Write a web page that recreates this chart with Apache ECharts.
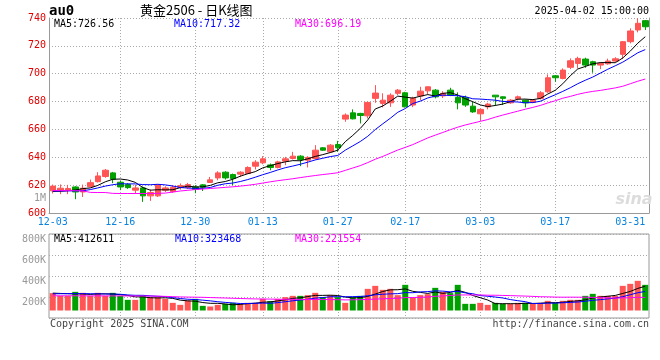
<!DOCTYPE html>
<html><head><meta charset="utf-8">
<script src="https://cdn.jsdelivr.net/npm/echarts/dist/echarts.min.js"></script>
<style>html,body{margin:0;padding:0;background:#fff}#c{width:660px;height:360px}</style>
</head><body><div id="c"></div>
<script>
const dates = ['12-03','12-04','12-05','12-06','12-09','12-10','12-11','12-12','12-13','12-16','12-17','12-18','12-19','12-20','12-23','12-24','12-25','12-26','12-27','12-30','12-31',
'01-02','01-03','01-06','01-07','01-08','01-09','01-10','01-13','01-14','01-15','01-16','01-17','01-20','01-21','01-22','01-23','01-24','01-27',
'02-05','02-06','02-07','02-10','02-11','02-12','02-13','02-14','02-17','02-18','02-19','02-20','02-21','02-24','02-25','02-26','02-27','02-28',
'03-03','03-04','03-05','03-06','03-07','03-10','03-11','03-12','03-13','03-14','03-17','03-18','03-19','03-20','03-21','03-24','03-25','03-26','03-27','03-28','03-31',
'04-01','04-02'];
const openP = [615.9,616.4,616.2,618.7,615.1,618.9,622.5,626.2,628.8,622.1,
620.5,616.4,618.0,612.3,612.3,616.4,615.4,618.5,618.3,618.7,
620.2,621.9,625.2,629.3,627.6,627.9,628.3,633.6,636.0,634.5,
632.7,637.2,639.1,640.8,637.9,639.1,646.8,643.9,649.2,667.4,
671.9,671.5,669.8,682.3,678.7,679.1,685.9,686.3,677.5,684.0,
687.7,688.2,684.1,688.2,683.0,682.7,676.7,671.2,676.2,684.6,
683.4,679.1,682.0,681.0,679.4,682.3,687.0,698.5,696.6,704.6,
707.4,710.5,708.6,706.2,707.1,709.1,713.9,723.0,731.4,738.1];
const closeP = [619.3,617.8,617.6,615.1,617.8,621.8,626.6,630.7,624.3,618.7,
618.2,618.0,612.3,614.7,620.2,618.0,618.5,619.6,620.4,616.9,
618.5,623.8,628.8,625.2,624.8,629.3,632.7,636.5,638.9,632.7,
636.7,638.9,640.8,638.4,639.9,645.1,645.1,648.7,646.8,670.3,
667.6,670.0,679.4,686.1,681.0,684.6,688.2,676.2,682.3,687.5,
690.6,683.4,685.9,684.6,679.1,677.5,672.6,674.4,678.2,683.4,
682.3,681.0,683.4,679.1,681.0,686.3,697.1,697.1,702.6,709.3,
711.0,706.2,706.2,707.4,709.1,710.7,723.0,730.7,736.2,733.7];
const lowP = [614.0,613.5,613.5,609.9,611.5,618.5,621.9,625.3,621.4,616.4,
617.3,613.8,608.0,608.7,611.5,615.1,614.5,616.8,617.3,614.2,
615.8,621.6,623.5,624.0,620.0,625.9,628.0,631.2,635.0,630.7,
632.0,634.3,638.4,633.6,632.7,638.4,644.6,643.5,643.9,665.5,
667.2,664.3,667.9,679.1,675.8,676.2,684.6,675.8,676.0,681.0,
685.0,682.3,682.5,683.9,674.4,676.2,671.9,666.2,674.4,677.0,
677.5,678.4,680.9,675.8,678.8,681.5,686.3,694.2,696.0,703.3,
703.8,704.3,700.7,703.3,706.5,708.5,710.5,721.8,729.7,731.4];
const highP = [620.4,620.5,620.2,619.2,620.4,624.0,629.3,631.6,629.5,623.0,
621.5,620.2,619.0,616.9,620.7,619.2,620.0,621.2,621.6,620.0,
620.7,625.9,630.0,630.0,628.3,630.0,633.5,637.9,640.8,635.5,
637.5,640.3,643.9,641.5,640.8,648.7,647.3,649.5,651.8,671.5,
674.4,671.9,679.8,691.8,685.9,685.9,689.0,687.0,683.5,690.6,
690.8,689.0,687.5,689.9,686.6,684.3,679.8,675.1,679.1,684.6,
683.8,681.8,684.3,681.5,681.8,687.5,699.5,699.0,703.8,711.0,
712.2,711.5,709.3,708.1,710.8,711.8,723.5,732.6,739.8,738.6];
const ma5 = [615.5,615.6,616.0,616.5,617.5,618.0,619.8,622.4,624.2,624.4,
623.7,622.0,618.3,616.4,616.7,616.6,616.7,618.2,619.3,618.7,
618.8,619.8,621.7,622.6,624.2,626.4,628.2,629.7,632.4,634.0,
635.5,636.7,637.6,637.5,638.9,640.6,641.9,643.4,645.1,651.2,
655.7,660.7,666.8,674.7,676.8,680.2,683.9,683.2,682.5,683.8,
685.0,684.0,685.9,686.4,684.7,682.1,679.9,677.6,676.4,677.2,
678.2,679.9,681.7,681.8,681.4,682.2,685.4,688.1,692.8,698.5,
703.4,705.2,707.1,708.0,708.0,707.9,711.3,716.2,721.9,726.56];
const ma10 = [615.8,615.8,615.9,615.9,616.0,616.8,618.0,619.3,620.3,621.0,
620.9,620.9,620.4,620.3,620.6,620.2,619.4,618.3,617.9,617.7,
617.7,618.3,619.9,621.0,621.5,622.6,624.0,625.7,627.5,629.1,
630.9,632.5,633.7,635.0,636.5,638.1,639.3,640.5,641.3,645.1,
648.2,651.3,655.1,659.9,664.0,668.0,672.3,675.0,678.6,680.3,
682.6,683.9,684.6,684.4,684.2,683.5,682.0,681.8,681.4,681.0,
680.1,679.9,679.7,679.1,679.3,680.2,682.6,684.9,687.3,689.9,
692.8,695.3,697.6,700.4,703.2,705.7,708.3,711.6,715.0,717.32];
const ma30 = [616.1,616.1,616.1,616.0,615.9,614.8,614.7,614.7,614.1,614.0,
614.0,614.0,614.0,614.0,614.1,614.3,615.0,615.8,616.3,616.8,
617.2,617.6,618.0,618.4,618.8,619.3,619.9,620.6,621.5,622.4,
623.2,623.9,624.6,625.4,626.2,626.9,627.6,628.2,628.9,630.6,
632.3,634.0,636.2,638.6,640.6,642.9,645.2,647.1,649.1,651.5,
653.9,655.9,657.8,659.8,661.6,663.2,664.5,665.8,667.1,668.8,
670.3,671.7,673.1,674.5,675.8,677.2,679.0,680.6,682.4,683.7,
685.2,686.4,687.3,688.0,688.9,689.8,691.0,692.8,694.6,696.19];
// volumes in thousands
const volK = [295,249,249,317,300,249,300,249,300,249,
181,181,249,227,227,198,130,96,170,198,
79,68,96,113,130,113,130,130,198,159,
198,227,249,249,261,300,227,261,227,130,
227,249,368,419,351,368,261,436,215,261,
278,385,317,295,436,113,113,130,96,130,
113,113,130,130,113,130,164,130,164,181,
181,249,283,249,249,249,419,453,504,436];
const volMa5 = [295,290,285,283,282,273,283,283,280,269,
256,232,232,217,213,216,206,176,164,158,
135,122,122,111,97,104,116,123,140,146,
163,182,206,216,237,257,257,260,255,229,
214,219,240,279,323,351,353,367,326,308,
290,315,291,307,342,309,255,217,178,116,
116,116,116,123,120,123,133,133,140,154,
164,181,212,229,242,256,290,324,375,412.6];
const volMa10 = [283,285,287,287,287,285,283,281,279,276,
264,258,258,249,241,236,219,204,191,186,
176,164,149,138,128,119,119,123,126,122,
134,149,165,178,191,210,220,233,236,233,
236,238,250,267,276,283,286,304,302,316,
321,334,329,317,325,300,285,254,242,229,
213,186,167,150,118,120,125,125,132,137,
144,157,173,184,198,210,235,268,302,323.5];
const volMa30 = [250,250,250,250,249,249,249,248,248,248,
247,247,246,245,244,240,235,231,228,226,
224,220,216,212,208,204,200,197,195,194,
191,190,190,188,187,189,186,186,184,180,
182,184,188,194,198,204,208,220,221,223,
230,241,248,254,264,264,264,264,260,259,
256,253,249,245,240,234,232,228,226,227,
226,226,223,217,214,210,215,216,225,221.6];
const labelDates = ['12-03','12-16','12-30','01-13','01-27','02-17','03-03','03-17','03-31'];
const gridDates = ['12-16','12-30','01-13','01-27','02-17','03-03','03-17'];
const volTickLabels = ['200K','400K','600K','800K'];
const priceMaText = ['MA5:726.56','MA10:717.32','MA30:696.19'];
const volMaText = ['MA5:412611','MA10:323468','MA30:221554'];

const RED = '#ff5555', GREEN = '#00a000';
const MONO = '"DejaVu Sans Mono", monospace';
const dotted = {color:'#aaaaaa', type:[1,2], width:1};
const chart = echarts.init(document.getElementById('c'), null, {renderer:'canvas'});
const candle = dates.map((d,i)=>[openP[i], closeP[i], lowP[i], highP[i]]);
const volData = volK.map((v,i)=>({value:v, itemStyle:{color: closeP[i] >= openP[i] ? RED : GREEN}}));
const showLabel = (i, v) => labelDates.indexOf(v) >= 0;
const showGrid = (i, v) => gridDates.indexOf(v) >= 0;
const maLine = (data, color, xi, yi) => ({type:'line', data, xAxisIndex:xi, yAxisIndex:yi, symbol:'none', z:4,
  lineStyle:{color, width:1}, silent:true});
const txt = (text, x, y, fill, opts) => Object.assign({type:'text', x, y, z:100,
  style:Object.assign({text, fill, font:'10px '+MONO, align:'left', verticalAlign:'middle'}, opts||{})});

chart.setOption({
  animation:false,
  backgroundColor:'#fff',
  grid:[
    {left:49, top:18, width:600, height:195, outerBoundsMode:'none'},
    {left:49, top:234, width:600, height:76.5, outerBoundsMode:'none'},
    {left:49, top:234, width:600, height:84, show:true, borderColor:'#999', borderWidth:1, outerBoundsMode:'none'}
  ],
  xAxis:[
    {type:'category', gridIndex:0, data:dates, boundaryGap:true,
     axisLine:{show:true, lineStyle:{color:'#999'}}, axisTick:{show:false},
     axisLabel:{interval:showLabel, color:'#0a84e0', fontSize:10, fontFamily:MONO, margin:4},
     splitLine:{show:true, interval:showGrid, alignWithLabel:true, lineStyle:dotted}},
    {type:'category', gridIndex:1, data:dates, boundaryGap:true, show:false},
    {type:'category', gridIndex:2, data:dates, boundaryGap:true,
     axisLine:{show:false}, axisTick:{show:false}, axisLabel:{show:false},
     splitLine:{show:true, interval:showGrid, alignWithLabel:true, lineStyle:dotted}}
  ],
  yAxis:[
    {type:'value', gridIndex:0, min:600, max:740, interval:20,
     axisLine:{show:true, lineStyle:{color:'#999'}}, axisTick:{show:false},
     axisLabel:{color:'#e00000', fontSize:10, fontFamily:MONO, margin:3},
     splitLine:{show:true, lineStyle:dotted}},
    {type:'value', gridIndex:0, min:600, max:740, interval:20, position:'right',
     axisLine:{show:true, lineStyle:{color:'#999'}}, axisTick:{show:false}, axisLabel:{show:false}, splitLine:{show:false}},
    {type:'value', gridIndex:1, min:0, max:1300, show:false},
    {type:'value', gridIndex:2, min:0, max:4, interval:1,
     axisLine:{show:false}, axisTick:{show:false},
     axisLabel:{color:'#999', fontSize:10, fontFamily:MONO, margin:3, verticalAlign:'top',
       formatter:(v)=> volTickLabels[v-1] || ''},
     splitLine:{show:true, lineStyle:dotted}}
  ],
  series:[
    {type:'candlestick', xAxisIndex:0, yAxisIndex:0, data:candle, barWidth:6,
     itemStyle:{color:RED, color0:GREEN, borderColor:RED, borderColor0:GREEN, borderWidth:1}},
    maLine(ma5, '#000000', 0, 0),
    maLine(ma10, '#0000ff', 0, 0),
    maLine(ma30, '#ff00ff', 0, 0),
    {type:'bar', xAxisIndex:1, yAxisIndex:2, data:volData, barWidth:6},
    maLine(volMa5, '#000000', 1, 2),
    maLine(volMa10, '#0000ff', 1, 2),
    maLine(volMa30, '#ff00ff', 1, 2)
  ],
  graphic:[
    txt('au0', 49, 11, '#000', {font:'bold 14px '+MONO}),
    txt('黄金2506 - 日K线图', 140, 10, '#000', {font:'13px "Noto Sans CJK SC"'}),
    txt('2025-04-02 15:00:00', 649, 11, '#000', {align:'right'}),
    txt(priceMaText[0], 54, 24, '#000'),
    txt(priceMaText[1], 174, 24, '#0000ff'),
    txt(priceMaText[2], 295, 24, '#ff00ff'),
    txt(volMaText[0], 54, 239, '#000'),
    txt(volMaText[1], 175, 239, '#0000ff'),
    txt(volMaText[2], 295, 239, '#ff00ff'),
    txt('1M', 46, 198, '#999', {align:'right'}),
    txt('sina', 634, 200, '#dcdcdc', {align:'center', font:'italic bold 16px "DejaVu Sans"'}),
    txt('Copyright 2025 SINA.COM', 50, 324, '#444'),
    txt('http://finance.sina.com.cn', 649, 324, '#444', {align:'right'})
  ]
});
</script></body></html>
